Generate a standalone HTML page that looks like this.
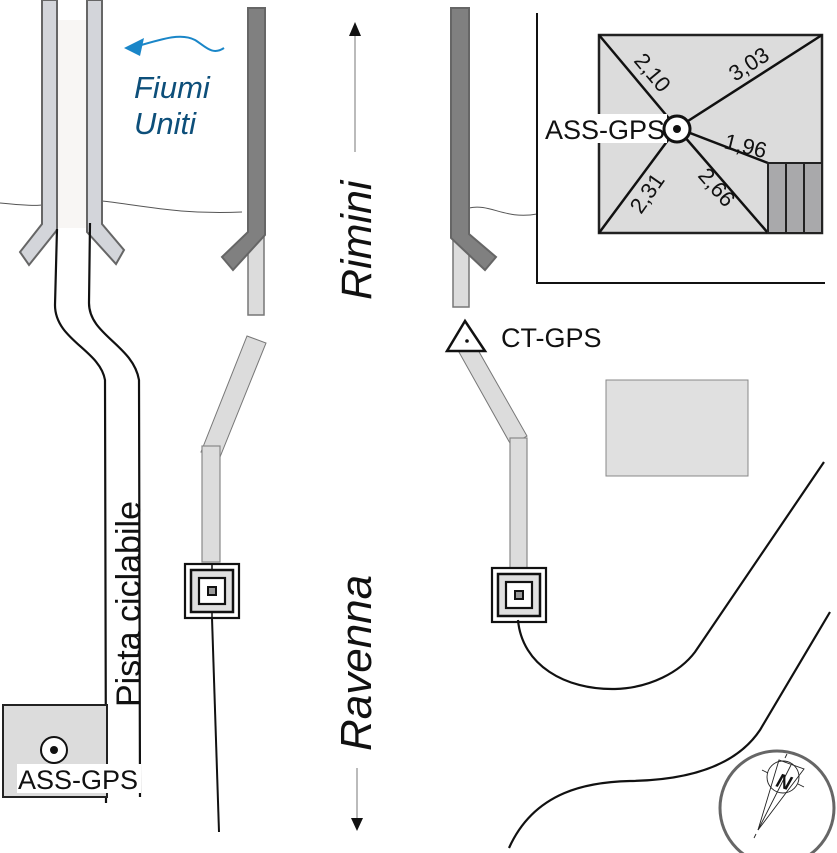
<!DOCTYPE html>
<html><head><meta charset="utf-8"><style>
html,body{margin:0;padding:0;background:#fff;}
svg{display:block;}
text{font-family:"Liberation Sans",Arial,sans-serif;}
</style></head><body>
<svg width="837" height="853" viewBox="0 0 837 853" xmlns="http://www.w3.org/2000/svg">
<rect x="57" y="20" width="30" height="208" fill="#f8f6f4"/>
<path d="M0,203 C20,205 35,206 42,205" fill="none" stroke="#555" stroke-width="1"/>
<path d="M102,201 C140,205 180,215 242,212" fill="none" stroke="#555" stroke-width="1"/>
<path d="M469,208 C490,203 505,220 537,214" fill="none" stroke="#555" stroke-width="1"/>
<polygon points="42,0 57,0 57,230 29,265 20,252 42,224" fill="#d3d5da" stroke="#666" stroke-width="2"/>
<polygon points="87,0 102,0 102,224 124,250 116,264 87,232" fill="#d3d5da" stroke="#666" stroke-width="2"/>
<path d="M57,229 L55,305 C55,340 100,350 105,380 L106,803" fill="none" stroke="#111" stroke-width="2.2"/>
<path d="M90,223 L89,303 C89,335 133,345 139,380 L140,797" fill="none" stroke="#111" stroke-width="2.2"/>
<path d="M224,48 C212,56 205,46 195,40 C182,33 165,38 138,46" fill="none" stroke="#1a86c8" stroke-width="2"/>
<polygon points="124,48 144,38 140,56" fill="#1a86c8"/>
<text x="134" y="98" font-size="31" font-style="italic" fill="#0d4f7a">Fiumi</text>
<text x="134" y="134" font-size="31" font-style="italic" fill="#0d4f7a">Uniti</text>
<rect x="248" y="235" width="16" height="80" fill="#dcdcdc" stroke="#777" stroke-width="1.5"/>
<polygon points="248,8 265,8 265,235 233,270 222,257 248,232" fill="#808080" stroke="#666" stroke-width="2"/>
<polygon points="247,336 266,343 220,457 201,452" fill="#dcdcdc" stroke="#777" stroke-width="1"/>
<rect x="202" y="446" width="18" height="116" fill="#dcdcdc" stroke="#888" stroke-width="1.2"/>
<line x1="212" y1="618" x2="219" y2="832" stroke="#111" stroke-width="2"/>
<g transform="translate(212,591)">
<rect x="-27" y="-27" width="54" height="54" fill="#fff" stroke="#111" stroke-width="2.2"/>
<rect x="-21" y="-21" width="42" height="42" fill="#e0e0e0" stroke="#111" stroke-width="2.5"/>
<rect x="-13" y="-13" width="26" height="26" fill="#fff" stroke="#111" stroke-width="2.2"/>
<rect x="-4" y="-4" width="8" height="8" fill="#999" stroke="#111" stroke-width="2"/>
<line x1="0" y1="-27" x2="0" y2="-21" stroke="#111" stroke-width="1.5"/>
<line x1="0" y1="21" x2="0" y2="27" stroke="#111" stroke-width="1.5"/>
</g>
<rect x="453" y="237" width="16" height="70" fill="#dcdcdc" stroke="#777" stroke-width="1.5"/>
<polygon points="451,8 469,8 469,234 496,257 485,270 451,238" fill="#808080" stroke="#666" stroke-width="2"/>
<polygon points="455,345 478,350 527,436 511,445" fill="#dcdcdc" stroke="#777" stroke-width="1"/>
<rect x="510" y="438" width="17" height="132" fill="#dcdcdc" stroke="#888" stroke-width="1.2"/>
<polygon points="465,321 447,351 485,351" fill="#fff" stroke="#111" stroke-width="2.5"/>
<circle cx="467" cy="341" r="1.8" fill="#111"/>
<text x="501" y="347" font-size="27" fill="#111">CT-GPS</text>
<g transform="translate(519,595)">
<rect x="-27" y="-27" width="54" height="54" fill="#fff" stroke="#111" stroke-width="2.2"/>
<rect x="-21" y="-21" width="42" height="42" fill="#e0e0e0" stroke="#111" stroke-width="2.5"/>
<rect x="-13" y="-13" width="26" height="26" fill="#fff" stroke="#111" stroke-width="2.2"/>
<rect x="-4" y="-4" width="8" height="8" fill="#999" stroke="#111" stroke-width="2"/>
</g>
<path d="M518,620 C522,665 565,690 615,689 C650,688 680,672 695,652 L824,462" fill="none" stroke="#111" stroke-width="2.2"/>
<path d="M509,848 C535,790 590,782 630,781 C700,780 740,760 760,730 L830,612" fill="none" stroke="#111" stroke-width="2.2"/>
<rect x="606" y="380" width="142" height="96" fill="#e0e0e0" stroke="#888" stroke-width="1"/>
<line x1="355" y1="35" x2="355" y2="152" stroke="#777" stroke-width="1"/>
<polygon points="355,22 349,36 361,36" fill="#111"/>
<text transform="translate(371,300) rotate(-90)" font-size="43" font-style="italic" fill="#111">Rimini</text>
<text transform="translate(371,751) rotate(-90)" font-size="44" font-style="italic" fill="#111">Ravenna</text>
<line x1="357" y1="768" x2="357" y2="820" stroke="#777" stroke-width="1"/>
<polygon points="357,831 351,818 363,818" fill="#111"/>
<text transform="translate(140,707) rotate(-90)" font-size="34" fill="#111">Pista ciclabile</text>
<rect x="3" y="705" width="104" height="92" fill="#dcdcdc" stroke="#222" stroke-width="2"/>
<circle cx="54" cy="750" r="13" fill="#fff" stroke="#111" stroke-width="2"/>
<circle cx="54" cy="750" r="4" fill="#111"/>
<rect x="17" y="764" width="124" height="29" fill="#fff"/>
<text x="18" y="789" font-size="27" fill="#111">ASS-GPS</text>
<polyline points="537,13 537,283 825,283" fill="none" stroke="#111" stroke-width="2"/>
<rect x="599" y="35" width="223" height="198" fill="#dcdcdc" stroke="#222" stroke-width="2.5"/>
<g stroke="#111" stroke-width="2.5">
<line x1="677" y1="128" x2="599" y2="35"/>
<line x1="677" y1="128" x2="822" y2="35"/>
<line x1="677" y1="128" x2="599" y2="233"/>
<line x1="677" y1="128" x2="768" y2="233"/>
<line x1="677" y1="128" x2="768" y2="163"/>
</g>
<rect x="768" y="163" width="54" height="70" fill="#a9a9ab" stroke="#222" stroke-width="2"/>
<line x1="786" y1="163" x2="786" y2="233" stroke="#222" stroke-width="2"/>
<line x1="804" y1="163" x2="804" y2="233" stroke="#222" stroke-width="2"/>
<rect x="545" y="114" width="122" height="29" fill="#fff"/>
<text x="545" y="139" font-size="27" fill="#111">ASS-GPS</text>
<circle cx="677" cy="129" r="13" fill="#fff" stroke="#111" stroke-width="3"/>
<circle cx="677" cy="129" r="4" fill="#111"/>
<g font-size="22" fill="#111">
<text transform="translate(633,61) rotate(50)">2,10</text>
<text transform="translate(735,82) rotate(-33)">3,03</text>
<text transform="translate(723,148) rotate(14)">1,96</text>
<text transform="translate(697,176) rotate(49)">2,66</text>
<text transform="translate(641,215) rotate(-55)">2,31</text>
</g>
<circle cx="777" cy="808" r="57" fill="#fff" stroke="#666" stroke-width="3"/>
<g stroke="#222" stroke-width="0.9" fill="none">
<circle cx="783" cy="777" r="16"/>
<polygon points="758,830 779,760 804,769"/>
<line x1="758" y1="830" x2="791" y2="765"/>
<line x1="762" y1="770" x2="768" y2="773"/>
<line x1="798" y1="784" x2="804" y2="787"/>
<line x1="785" y1="758" x2="787" y2="754"/>
<line x1="754" y1="838" x2="756" y2="834"/>
</g>
<text transform="translate(775,786) rotate(18)" font-size="20" font-weight="bold" font-style="italic" fill="#111">N</text>
</svg>
</body></html>
